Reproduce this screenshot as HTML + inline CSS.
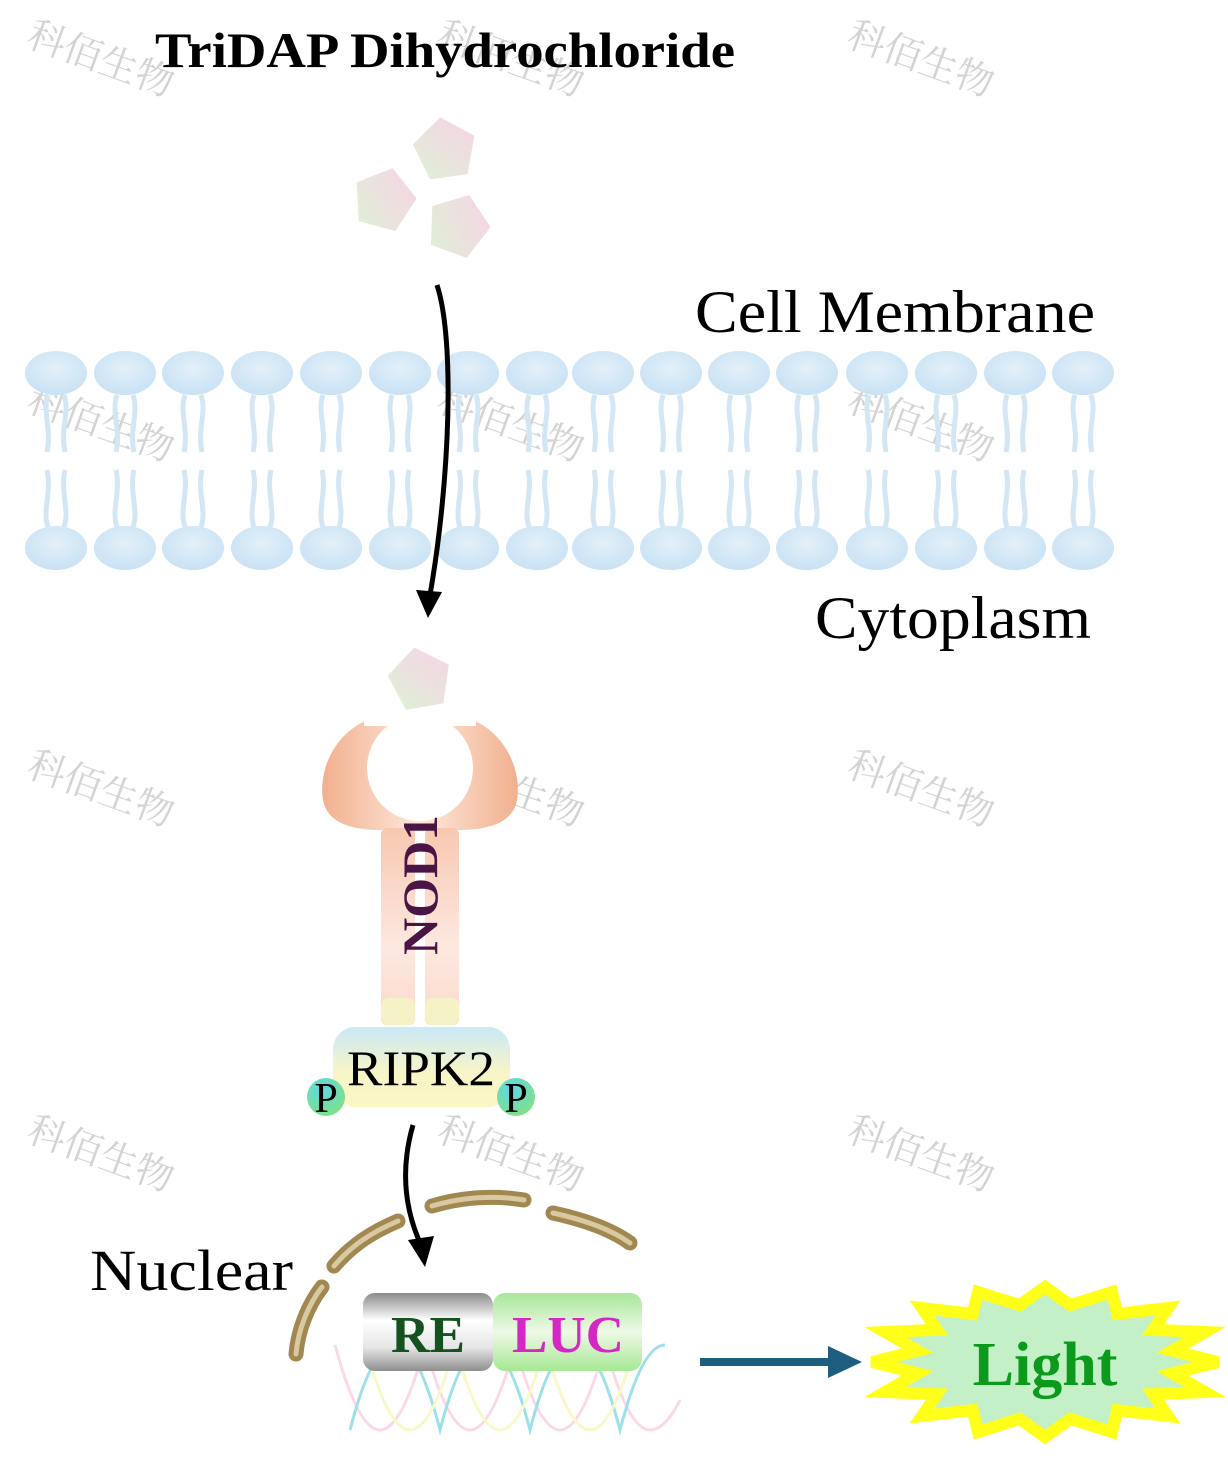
<!DOCTYPE html>
<html><head><meta charset="utf-8"><style>
html,body{margin:0;padding:0;background:#fff}
svg{display:block}
text{font-family:"Liberation Serif","Noto Serif CJK SC",serif}
.wm{font-family:"Liberation Sans","Noto Sans CJK SC",sans-serif;font-size:38px;fill:#c8c8c8;opacity:.8}
</style></head><body>
<svg width="1228" height="1461" viewBox="0 0 1228 1461" xmlns="http://www.w3.org/2000/svg">
<defs>
<linearGradient id="pent" x1="0" y1="1" x2="1" y2="0"><stop offset="0" stop-color="#dff0d6"/><stop offset="1" stop-color="#f7d3e6"/></linearGradient>
<radialGradient id="head" cx=".5" cy=".4" r=".6"><stop offset="0" stop-color="#e3f0fa"/><stop offset="1" stop-color="#c9e2f4"/></radialGradient>
<linearGradient id="arm" x1="0" y1="0" x2="1" y2="0"><stop offset="0" stop-color="#f2b08e"/><stop offset=".5" stop-color="#fde8dc"/><stop offset="1" stop-color="#f2b08e"/></linearGradient>
<linearGradient id="stem" x1="0" y1="0" x2="0" y2="1"><stop offset="0" stop-color="#f7c8b0"/><stop offset=".6" stop-color="#fde8e0"/><stop offset="1" stop-color="#fad9cb"/></linearGradient>
<linearGradient id="ripk" x1="0" y1="0" x2="0" y2="1"><stop offset="0" stop-color="#c9e8f8"/><stop offset=".55" stop-color="#f7f5c8"/><stop offset="1" stop-color="#fbf7c4"/></linearGradient>
<radialGradient id="pg" cx=".4" cy=".3" r=".7"><stop offset="0" stop-color="#5ed8e8"/><stop offset="1" stop-color="#7fe08a"/></radialGradient>
<linearGradient id="re" x1="0" y1="0" x2="0" y2="1"><stop offset="0" stop-color="#8a8a8a"/><stop offset=".35" stop-color="#ffffff"/><stop offset=".7" stop-color="#e6e6e6"/><stop offset="1" stop-color="#8e8e8e"/></linearGradient>
<linearGradient id="luc" x1="0" y1="0" x2="0" y2="1"><stop offset="0" stop-color="#a8e69a"/><stop offset=".5" stop-color="#eef9e6"/><stop offset="1" stop-color="#a6e894"/></linearGradient>
<g id="lip">
<ellipse cx="0" cy="373" rx="31" ry="22" fill="url(#head)"/>
<path d="M-8 395 C-14 412 -4 430 -9 452 M8 395 C14 412 4 430 9 452" stroke="#d3e6f4" stroke-width="5" fill="none"/>
<path d="M-9 470 C-4 492 -14 510 -8 527 M9 470 C4 492 14 510 8 527" stroke="#d3e6f4" stroke-width="5" fill="none"/>
<ellipse cx="0" cy="548" rx="31" ry="22" fill="url(#head)"/>
</g>
<polygon id="pt" points="0,-33 31,-10 19,27 -19,27 -31,-10" fill="url(#pent)"/>
</defs>

<g class="wm">
<text x="25" y="45" transform="rotate(20 25 45)">科佰生物</text>
<text x="435" y="45" transform="rotate(20 435 45)">科佰生物</text>
<text x="845" y="45" transform="rotate(20 845 45)">科佰生物</text>
<text x="25" y="410" transform="rotate(20 25 410)">科佰生物</text>
<text x="435" y="410" transform="rotate(20 435 410)">科佰生物</text>
<text x="845" y="410" transform="rotate(20 845 410)">科佰生物</text>
<text x="25" y="775" transform="rotate(20 25 775)">科佰生物</text>
<text x="845" y="775" transform="rotate(20 845 775)">科佰生物</text>
<text x="25" y="1140" transform="rotate(20 25 1140)">科佰生物</text>
<text x="435" y="1140" transform="rotate(20 435 1140)">科佰生物</text>
<text x="845" y="1140" transform="rotate(20 845 1140)">科佰生物</text>
</g>

<text x="155" y="67" font-size="50" font-weight="bold" fill="#000" textLength="580" lengthAdjust="spacingAndGlyphs">TriDAP Dihydrochloride</text>

<use href="#pt" transform="translate(445,150) rotate(-8)"/>
<use href="#pt" transform="translate(384,200) rotate(15)"/>
<use href="#pt" transform="translate(458,226) rotate(20)"/>

<text x="695" y="332" font-size="60" fill="#000" textLength="400" lengthAdjust="spacingAndGlyphs">Cell Membrane</text>

<g>
<use href="#lip" x="56"/><use href="#lip" x="125"/><use href="#lip" x="193"/><use href="#lip" x="262"/>
<use href="#lip" x="331"/><use href="#lip" x="400"/><use href="#lip" x="468"/><use href="#lip" x="537"/>
<use href="#lip" x="603"/><use href="#lip" x="671"/><use href="#lip" x="739"/><use href="#lip" x="807"/>
<use href="#lip" x="877"/><use href="#lip" x="946"/><use href="#lip" x="1015"/><use href="#lip" x="1083"/>
</g>

<path d="M437 285 C455 340 450 480 430 595" stroke="#000" stroke-width="5" fill="none"/>
<polygon points="416,590 442,592 428,618" fill="#000"/>

<text x="815" y="638" font-size="60" fill="#000" textLength="276" lengthAdjust="spacingAndGlyphs">Cytoplasm</text>

<g class="wm"><text x="435" y="775" transform="rotate(20 435 775)">科佰生物</text></g>

<!-- NOD1 -->
<path d="M378 716 C335 728 318 770 323 800 C327 822 350 830 380 830 L460 830 C490 830 513 822 517 800 C522 770 505 728 462 716 Z" fill="url(#arm)"/>
<circle cx="420" cy="768" r="53" fill="#fff"/>
<rect x="364" y="700" width="112" height="26" fill="#fff"/>
<rect x="381" y="828" width="34" height="197" rx="6" fill="url(#stem)"/>
<rect x="425" y="828" width="34" height="197" rx="6" fill="url(#stem)"/>
<rect x="381" y="998" width="34" height="27" rx="8" fill="#f5f3c6"/>
<rect x="425" y="998" width="34" height="27" rx="8" fill="#f5f3c6"/>
<text transform="translate(437,885) rotate(-90)" font-size="50" font-weight="bold" fill="#4a1545" text-anchor="middle" textLength="140" lengthAdjust="spacingAndGlyphs">NOD1</text>

<use href="#pt" transform="translate(420,680) rotate(-10)"/>

<rect x="333" y="1027" width="177" height="80" rx="22" fill="url(#ripk)"/>
<text x="421" y="1085" font-size="50" fill="#000" text-anchor="middle" textLength="148" lengthAdjust="spacingAndGlyphs">RIPK2</text>
<circle cx="326" cy="1097" r="19" fill="url(#pg)"/>
<circle cx="516" cy="1097" r="19" fill="url(#pg)"/>
<text x="326" y="1112" font-size="42" text-anchor="middle" fill="#000">P</text>
<text x="516" y="1112" font-size="42" text-anchor="middle" fill="#000">P</text>

<path d="M413 1125 C400 1170 405 1210 421 1245" stroke="#000" stroke-width="5" fill="none"/>
<polygon points="408,1240 434,1236 425,1267" fill="#000"/>

<text x="90" y="1290" font-size="58" fill="#000" textLength="203" lengthAdjust="spacingAndGlyphs">Nuclear</text>

<g fill="none" stroke-linecap="round">
<g stroke="#a08850" stroke-width="15">
<path d="M296 1354 C298 1330 308 1305 322 1287"/>
<path d="M334 1266 C352 1245 372 1232 398 1221"/>
<path d="M432 1206 C462 1197 495 1195 524 1200"/>
<path d="M553 1213 C585 1220 612 1230 630 1243"/>
</g>
<g stroke="#d8c9a2" stroke-width="5">
<path d="M296 1354 C298 1330 308 1305 322 1287"/>
<path d="M334 1266 C352 1245 372 1232 398 1221"/>
<path d="M432 1206 C462 1197 495 1195 524 1200"/>
<path d="M553 1213 C585 1220 612 1230 630 1243"/>
</g>
</g>

<g fill="none" stroke-width="3" opacity=".55">
<path d="M335 1345 Q358 1430 380 1430 Q402 1430 425 1345 Q448 1430 470 1430 Q492 1430 515 1345 Q538 1430 560 1430 Q582 1430 605 1345 Q628 1430 650 1430 Q665 1430 680 1400" stroke="#f7b8d6"/>
<path d="M350 1430 Q372 1345 395 1345 Q418 1345 440 1430 Q462 1345 485 1345 Q508 1345 530 1430 Q552 1345 575 1345 Q598 1345 620 1430 Q642 1345 665 1345" stroke="#4cc6d8"/>
<path d="M365 1345 Q388 1430 410 1430 Q432 1430 455 1345 Q478 1430 500 1430 Q522 1430 545 1345 Q568 1430 590 1430 Q612 1430 635 1345" stroke="#f4f29a"/>
</g>

<rect x="363" y="1293" width="130" height="78" rx="12" fill="url(#re)"/>
<rect x="493" y="1293" width="149" height="78" rx="12" fill="url(#luc)"/>
<text x="428" y="1352" font-size="52" font-weight="bold" fill="#15521f" text-anchor="middle" textLength="74" lengthAdjust="spacingAndGlyphs">RE</text>
<text x="568" y="1352" font-size="52" font-weight="bold" fill="#d626c4" text-anchor="middle" textLength="112" lengthAdjust="spacingAndGlyphs">LUC</text>

<line x1="700" y1="1362" x2="832" y2="1362" stroke="#1c5d80" stroke-width="8"/>
<polygon points="828,1346 862,1362 828,1378" fill="#1c5d80"/>

<polygon points="1218,1362 1172.5,1373.3 1205,1392 1153,1394.2 1168,1416 1117.3,1410.2 1112,1432 1070.4,1418.9 1045,1437 1019.6,1418.9 978,1432 972.7,1410.2 922,1416 937,1394.2 885,1392 917.5,1373.3 872,1362 917.5,1350.7 885,1332 937,1329.8 922,1308 972.7,1313.8 978,1292 1019.6,1305.1 1045,1287 1070.4,1305.1 1112,1292 1117.3,1313.8 1168,1308 1153,1329.8 1205,1332 1172.5,1350.7" fill="#c3f0c6" stroke="#ffff1a" stroke-width="12" stroke-linejoin="miter"/>
<text x="1045" y="1385" font-size="62" font-weight="bold" fill="#0c9a1c" text-anchor="middle">Light</text>
</svg>
</body></html>
